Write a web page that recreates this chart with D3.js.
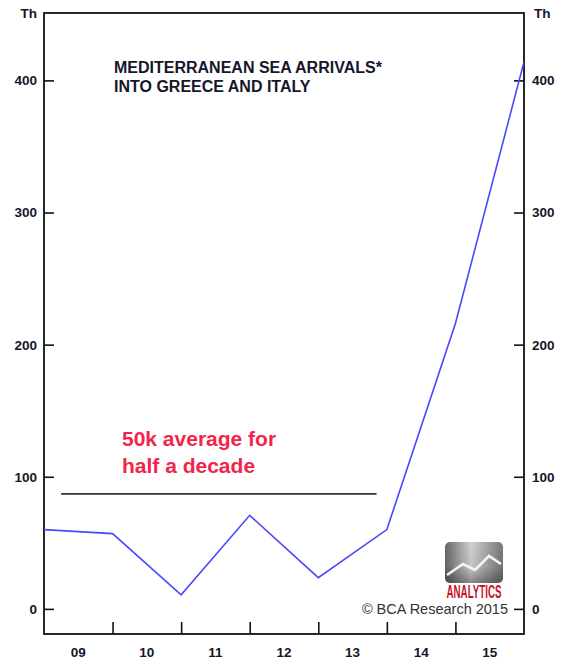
<!DOCTYPE html>
<html>
<head>
<meta charset="utf-8">
<script src="https://cdn.jsdelivr.net/npm/d3@7"></script>
<style>
  html, body { margin: 0; padding: 0; background: #fff; }
  svg { display: block; }
  text { font-family: "Liberation Sans", Arial, sans-serif; }
</style>
</head>
<body>
<svg id="chart" width="561" height="663"></svg>
<script>
// Sea arrivals into Greece and Italy, thousands, one value per calendar year
// (each value is plotted at the end of its year).
const arrivalYears = [2008, 2009, 2010, 2011, 2012, 2013, 2014, 2015];
const arrivalsTh   = [60, 57, 10.7, 70.8, 23.6, 60, 216, 414];

// Axis ticks and labels
const yTickValues  = [0, 100, 200, 300, 400];
const axisYears    = [2009, 2010, 2011, 2012, 2013, 2014, 2015];
const axisYearText = ["09", "10", "11", "12", "13", "14", "15"];

// Annotation: bar marking the 2009-2013 period
const periodBar = { start: 2009.25, end: 2013.85, level: 87 };
const noteLines  = ["50k average for", "half a decade"];
const titleLines = ["MEDITERRANEAN SEA ARRIVALS*", "INTO GREECE AND ITALY"];

const svg = d3.select("#chart");
const frame = { left: 44, right: 524, top: 13, bottom: 634 };

const x = d3.scaleLinear().domain([2009, 2016]).range([frame.left, frame.right]);
const y = d3.scaleLinear().domain([-19, 451]).range([frame.bottom, frame.top]);

const ink = "#16162a";

// clip for the series
svg.append("defs").append("clipPath").attr("id", "plotClip")
  .append("rect")
  .attr("x", frame.left).attr("y", frame.top)
  .attr("width", frame.right - frame.left).attr("height", frame.bottom - frame.top);

// Y axes (ticks inward on both sides)
const yLeft = d3.axisRight(y).tickValues(yTickValues).tickSize(10).tickFormat("");
const yRight = d3.axisLeft(y).tickValues(yTickValues).tickSize(10).tickFormat("");
svg.append("g").attr("transform", `translate(${frame.left},0)`).call(yLeft)
  .call(g => g.select(".domain").remove())
  .selectAll("line").attr("stroke", "#111").attr("stroke-width", 1.6);
svg.append("g").attr("transform", `translate(${frame.right},0)`).call(yRight)
  .call(g => g.select(".domain").remove())
  .selectAll("line").attr("stroke", "#111").attr("stroke-width", 1.6);

// Y tick labels
const tickFont = { size: "13.5px", weight: "bold" };
svg.append("g").selectAll("text").data(yTickValues).join("text")
  .attr("x", frame.left - 7).attr("y", d => y(d)).attr("dy", "0.36em")
  .attr("text-anchor", "end")
  .attr("font-size", tickFont.size).attr("font-weight", tickFont.weight).attr("fill", ink)
  .text(d => d);
svg.append("g").selectAll("text").data(yTickValues).join("text")
  .attr("x", frame.right + 8).attr("y", d => y(d)).attr("dy", "0.36em")
  .attr("text-anchor", "start")
  .attr("font-size", tickFont.size).attr("font-weight", tickFont.weight).attr("fill", ink)
  .text(d => d);

// Unit labels
svg.append("text").attr("x", frame.left - 7).attr("y", frame.top).attr("dy", "0.36em")
  .attr("text-anchor", "end").attr("font-size", tickFont.size).attr("font-weight", "bold")
  .attr("fill", ink).text("Th");
svg.append("text").attr("x", frame.right + 10).attr("y", frame.top).attr("dy", "0.36em")
  .attr("text-anchor", "start").attr("font-size", tickFont.size).attr("font-weight", "bold")
  .attr("fill", ink).text("Th");

// X axis: ticks at year boundaries, labels centred in each year
const xBoundaries = axisYears.slice(1);
const xAxis = d3.axisTop(x).tickValues(xBoundaries).tickSize(12).tickFormat("");
svg.append("g").attr("transform", `translate(0,${frame.bottom})`).call(xAxis)
  .call(g => g.select(".domain").remove())
  .selectAll("line").attr("stroke", "#111").attr("stroke-width", 1.6);
svg.append("g").selectAll("text").data(axisYears).join("text")
  .attr("x", d => x(d + 0.5)).attr("y", 652).attr("dy", "0.36em")
  .attr("text-anchor", "middle")
  .attr("font-size", tickFont.size).attr("font-weight", "bold").attr("fill", ink)
  .text((d, i) => axisYearText[i]);

// Frame
svg.append("rect")
  .attr("x", frame.left).attr("y", frame.top)
  .attr("width", frame.right - frame.left).attr("height", frame.bottom - frame.top)
  .attr("fill", "none").attr("stroke", "#111").attr("stroke-width", 1.8);

// Title
svg.append("g").selectAll("text").data(titleLines).join("text")
  .attr("x", 114).attr("y", (d, i) => 67 + i * 19).attr("dy", "0.36em")
  .attr("font-size", "16px").attr("font-weight", "bold").attr("fill", ink)
  .text(d => d);

// Period bar and note
svg.append("line")
  .attr("x1", x(periodBar.start)).attr("x2", x(periodBar.end))
  .attr("y1", y(periodBar.level)).attr("y2", y(periodBar.level))
  .attr("stroke", "#333").attr("stroke-width", 1.8);
svg.append("g").selectAll("text").data(noteLines).join("text")
  .attr("x", 122).attr("y", (d, i) => 438 + i * 27).attr("dy", "0.36em")
  .attr("font-family", "'Open Sans', sans-serif")
  .attr("font-size", "21px").attr("font-weight", 600).attr("fill", "#f2264b")
  .text(d => d);

// Arrivals series
const line = d3.line()
  .x((d, i) => x(arrivalYears[i] + 1))
  .y(d => y(d));
svg.append("path")
  .datum(arrivalsTh)
  .attr("clip-path", "url(#plotClip)")
  .attr("d", line)
  .attr("fill", "none").attr("stroke", "#4848ff").attr("stroke-width", 1.6)
  .attr("stroke-linejoin", "miter");

// Copyright
svg.append("text").attr("x", 508).attr("y", 609).attr("dy", "0.36em")
  .attr("text-anchor", "end").attr("font-size", "14.5px").attr("fill", "#333")
  .text("© BCA Research 2015");

// Analytics badge
const badge = svg.append("g").attr("transform", "translate(445,542)");
const grad = svg.select("defs").append("linearGradient").attr("id", "badgeGrad")
  .attr("x1", "0").attr("x2", "1").attr("y1", "0").attr("y2", "0");
grad.append("stop").attr("offset", "0%").attr("stop-color", "#666");
grad.append("stop").attr("offset", "45%").attr("stop-color", "#d0d0d0");
grad.append("stop").attr("offset", "100%").attr("stop-color", "#777");
const gradV = svg.select("defs").append("linearGradient").attr("id", "badgeShade")
  .attr("x1", "0").attr("x2", "0").attr("y1", "0").attr("y2", "1");
gradV.append("stop").attr("offset", "0%").attr("stop-color", "#000").attr("stop-opacity", 0);
gradV.append("stop").attr("offset", "60%").attr("stop-color", "#000").attr("stop-opacity", 0.05);
gradV.append("stop").attr("offset", "100%").attr("stop-color", "#000").attr("stop-opacity", 0.35);
badge.append("rect").attr("width", 58).attr("height", 41).attr("rx", 5)
  .attr("fill", "url(#badgeGrad)");
badge.append("rect").attr("width", 58).attr("height", 41).attr("rx", 5)
  .attr("fill", "url(#badgeShade)");
badge.append("polyline")
  .attr("points", "2,33 18,22 30,28 44,14 56,22")
  .attr("fill", "none").attr("stroke", "#f4f4f4").attr("stroke-width", 2.6)
  .attr("stroke-linejoin", "miter");
badge.append("text").attr("x", 29).attr("y", 50).attr("dy", "0.36em")
  .attr("text-anchor", "middle")
  .attr("font-size", "18px").attr("font-weight", "bold").attr("fill", "#c4152a")
  .attr("textLength", 55).attr("lengthAdjust", "spacingAndGlyphs")
  .text("ANALYTICS");
</script>
</body>
</html>
